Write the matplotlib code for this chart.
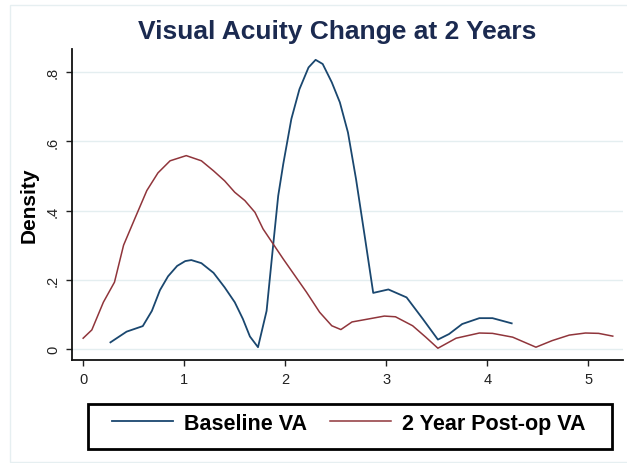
import matplotlib
matplotlib.use("Agg")
import matplotlib.pyplot as plt
from matplotlib.patches import Rectangle

# --- Data (kernel density curves) ---
baseline_x = [0.27, 0.43, 0.59, 0.68, 0.76, 0.84, 0.93, 1.01, 1.07, 1.17, 1.29, 1.40,
              1.50, 1.58, 1.65, 1.73, 1.815, 1.88, 1.93, 1.98, 2.06, 2.14, 2.23, 2.30,
              2.37, 2.46, 2.54, 2.62, 2.70, 2.79, 2.87, 3.02, 3.20, 3.36, 3.51, 3.62,
              3.75, 3.92, 4.05, 4.24]
baseline_y = [0.019, 0.05, 0.066, 0.11, 0.17, 0.21, 0.24, 0.254, 0.257, 0.248, 0.22, 0.178,
              0.135, 0.087, 0.036, 0.005, 0.11, 0.30, 0.443, 0.535, 0.665, 0.751, 0.814, 0.836,
              0.824, 0.771, 0.713, 0.626, 0.491, 0.318, 0.162, 0.172, 0.149, 0.087, 0.027, 0.043,
              0.072, 0.089, 0.089, 0.074]

postop_x = [0.0, 0.086, 0.20, 0.31, 0.40, 0.51, 0.63, 0.74, 0.86, 1.02, 1.17, 1.29, 1.40,
            1.50, 1.60, 1.70, 1.78, 1.98, 2.21, 2.34, 2.46, 2.55, 2.66, 2.83, 2.98, 3.09,
            3.26, 3.39, 3.51, 3.69, 3.92, 4.05, 4.25, 4.48, 4.64, 4.81, 4.97, 5.10, 5.24]
postop_y = [0.031, 0.055, 0.135, 0.193, 0.30, 0.376, 0.458, 0.509, 0.544, 0.559, 0.544, 0.515, 0.486,
            0.453, 0.429, 0.395, 0.347, 0.26, 0.164, 0.106, 0.067, 0.056, 0.078, 0.087, 0.095, 0.093,
            0.067, 0.034, 0.002, 0.031, 0.046, 0.045, 0.034, 0.005, 0.024, 0.04, 0.046, 0.045, 0.037]

x_ticks = [0, 1, 2, 3, 4, 5]
y_ticks = [0, 0.2, 0.4, 0.6, 0.8]
y_tick_labels = ["0", ".2", ".4", ".6", ".8"]

# --- Stata-like colours ---
navy = "#1a476f"
maroon = "#90353b"
grid_col = "#e4eef0"

plt.rcParams["font.family"] = ["Liberation Sans", "DejaVu Sans"]

fig = plt.figure(figsize=(6.27, 4.64), dpi=100)
ax = fig.add_axes([0.1144, 0.222, 0.879, 0.670])

# faint outer graph region border
fig.patches.append(Rectangle((0.016, 0.002), 0.99, 0.984, transform=fig.transFigure,
                             fill=False, edgecolor="#e6eff1", linewidth=1))

ax.plot(baseline_x, baseline_y, color=navy, linewidth=1.3, label="Baseline VA")
ax.plot(postop_x, postop_y, color=maroon, linewidth=1.1, label="2 Year Post-op VA")

# --- Axes styling ---
ax.set_xlim(-0.113, 5.34)
ax.set_ylim(-0.032, 0.867)
ax.set_xticks(x_ticks)
ax.set_yticks(y_ticks)
ax.set_yticklabels(y_tick_labels, rotation=90, va="center")
ax.tick_params(direction="out", length=4.5, width=1, colors="#222222", labelsize=10.5, pad=4)
ax.yaxis.grid(True, color=grid_col, linewidth=1)
ax.set_axisbelow(True)
for side in ["top", "right"]:
    ax.spines[side].set_visible(False)
for side in ["left", "bottom"]:
    ax.spines[side].set_linewidth(1.3)
    ax.spines[side].set_color("#111111")

ax.set_ylabel("Density", fontsize=15, fontweight="bold", labelpad=5)
fig.text(0.537, 0.931, "Visual Acuity Change at 2 Years", ha="center", va="center",
         fontsize=19, fontweight="bold", color="#1b2a50")

# --- Legend under the plot (box drawn separately) ---
fig.patches.append(Rectangle((88 / 627, 14 / 464), 524 / 627, 45 / 464, transform=fig.transFigure,
                             fill=False, edgecolor="black", linewidth=2))
leg = fig.legend(loc="center", ncol=2, mode="expand",
                 bbox_to_anchor=(112 / 627, 17 / 464, 473 / 627, 45 / 464),
                 borderaxespad=0, borderpad=0, frameon=False,
                 handlelength=2.85, handletextpad=0.48,
                 prop={"weight": "bold", "size": 15.5})

plt.savefig("out.png", dpi=100)
